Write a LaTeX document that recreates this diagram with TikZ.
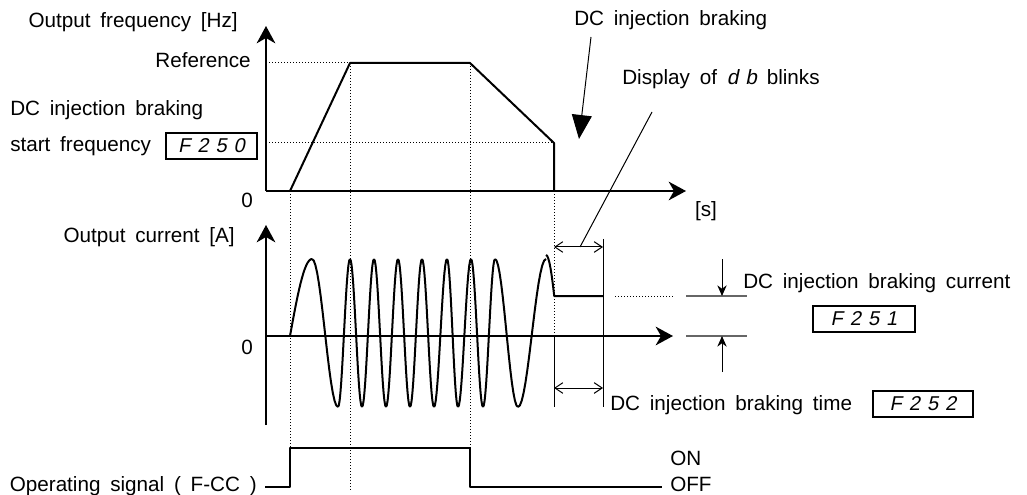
\documentclass[tikz,border=0pt]{standalone}
\usepackage{fontspec}
\setmainfont{Liberation Sans}[WordSpace=1.7]
\newfontfamily\segfont{Liberation Sans}[FakeSlant=0.2,LetterSpace=35]
\usepackage{tikz}
\usetikzlibrary{arrows.meta,positioning,calc}

\begin{document}
\begin{tikzpicture}[x=0.75pt,y=-0.75pt,>=Stealth,
 lbl/.style={font=\fontsize{15.5}{18}\selectfont,inner sep=0pt},
 seg/.style={draw,line width=1.1pt,inner sep=0pt,minimum height=19.5pt,font=\fontsize{15}{18}\segfont},
 axis/.style={line width=1.5pt,-{Stealth[length=13pt,width=14pt,inset=4pt]}},
 curve/.style={line width=1.5pt,line join=round},
 guide/.style={line width=0.75pt,dash pattern=on 0.75pt off 1.5pt},
 thinline/.style={line width=0.75pt},
 dim/.style={thinline,{Straight Barb[length=6pt,width=8pt]}-{Straight Barb[length=6pt,width=8pt]}},
 grayline/.style={line width=1pt,black!60}]
 \useasboundingbox (0,0) rectangle (1027,495);

 % frequency plot
 \coordinate (fo) at (266,191);
 \draw[axis] (fo) -- (266,26);
 \draw[axis] (fo) -- (686,191);
 \draw[guide] (266,63) -- (350,63);
 \draw[guide] (266,143) -- (554,143);
 \draw[guide] (290,191) -- (290,448);
 \draw[guide] (350,63) -- (350,490);
 \draw[guide] (470,63) -- (470,448);
 \draw[guide] (554,143) -- (554,337);
 \draw[curve] (290,191) -- (350,63) -- (470,63) -- (554,143) -- (554,191);

 \node[lbl,anchor=east] (flbl) at (238,22) {Output frequency [Hz]};
 \node[lbl,anchor=east] (ref) at (251,60) {Reference};
 \node[lbl,anchor=west] (dcb) at (10,110) {DC injection braking};
 \node[lbl,anchor=west] (start) at (10,146) {start frequency};
 \node[seg,minimum width=68pt] (f250) at (211.5,146) {F250};
 \node[lbl] (fzero) at (247,200) {0};
 \node[lbl] (sec) at (706,211) {[s]};

 % current plot
 \coordinate (co) at (266,336);
 \draw[axis] (266,425) -- (266,225);
 \draw[axis] (co) -- (673,336);
 \draw[curve] plot[domain=290:312,samples=16] (\x,{336-77*sin(90*(\x-290)/22)});
 \foreach \xa/\xb/\sg in {312/338/1,338/350/-1,350/362/1,362/374/-1,374/386/1,386/398/-1,
   398/410/1,410/422/-1,422/434/1,434/447/-1,447/458/1,458/471/-1,471/483/1,483/495/-1,
   495/518/1,518/546/-1}
  \draw[curve] plot[domain=\xa:\xb,samples=16] (\x,{333-\sg*74*cos(180*(\x-\xa)/(\xb-\xa))});
 \draw[curve] plot[domain=546:554,samples=8] (\x,{333-78*cos(180*(\x-546)/24)}) -- (554,296) -- (603,296);
 \draw[thinline] (554,337) -- (554,407);
 \draw[thinline] (603,239) -- (603,407);
 \draw[dim] (554,247) -- (603,247);
 \draw[dim] (554,388) -- (603,388);
 \draw[guide] (615,296) -- (675,296);
 \draw[grayline] (686,296) -- (747,296);
 \draw[grayline] (686,336) -- (747,336);
 \draw[thinline,-{Stealth[length=8pt,width=7pt]}] (722,259) -- (722,296);
 \draw[thinline,-{Stealth[length=8pt,width=7pt]}] (722,372) -- (722,336);

 \node[lbl,anchor=east] (clbl) at (235,237) {Output current [A]};
 \node[lbl] (czero) at (247,347) {0};
 \node[lbl,anchor=west] (dcbtop) at (574,20) {DC injection braking};
 \node[lbl,anchor=west] (disp) at (622,79) {Display of {\segfont db} blinks};
 \node[lbl,anchor=west] (cur) at (743,283) {DC injection braking current};
 \node[seg,minimum width=76.5pt] (f251) at (864,319) {F251};
 \node[lbl,anchor=west] (tlbl) at (610,405) {DC injection braking time};
 \node[seg,minimum width=75pt] (f252) at (923,404) {F252};

 \coordinate (dcbtip) at (579,139);
 \coordinate (dispfoot) at (652,112);
 \coordinate (dimtop) at (580,247);
 \draw[thinline,-{Triangle[length=18pt,width=15pt]}] (591,37) -- (dcbtip);
 \draw[thinline] (dispfoot) -- (dimtop);

 % operating signal
 \draw[curve] (265,487) -- (290,487) -- (290,448) -- (470,448) -- (470,487) -- (662,487);
 \node[lbl,anchor=east] (op) at (257,486) {Operating signal ( F-CC )};
 \node[lbl,anchor=west] (on) at (670,458) {ON};
 \node[lbl,anchor=west] (off) at (670,484) {OFF};
\end{tikzpicture}
\end{document}
